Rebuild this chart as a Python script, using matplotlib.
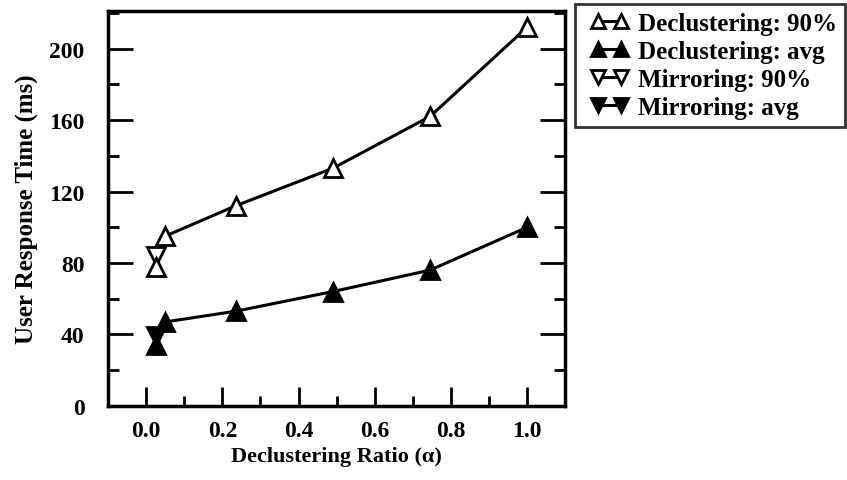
import matplotlib
matplotlib.use("Agg")
import matplotlib.pyplot as plt
from matplotlib.ticker import MultipleLocator
from matplotlib.lines import Line2D
from matplotlib.legend_handler import HandlerLine2D

plt.rcParams['font.family'] = ['Liberation Serif', 'DejaVu Serif']
plt.rcParams['font.weight'] = 'bold'
plt.rcParams['axes.labelweight'] = 'bold'

# values
decl_x = [0.05, 0.235, 0.49, 0.745, 1.0]
decl_90 = [95, 112, 133, 162, 212]
decl_avg = [47, 53, 64, 76, 100]

# isolated points near alpha = 0
mirr_x = [0.025]
mirr_90 = [84]
mirr_avg = [39]
decl0_x = [0.025]
decl0_90 = [78]
decl0_avg = [34]

fig = plt.figure(figsize=(8.47, 4.81), dpi=100)
ax = fig.add_axes([0.1275, 0.154, 0.54, 0.821])

ms = 13
mew = 2
ax.plot(decl_x, decl_90, color='black', lw=2.2, marker='^', ms=ms,
        mfc='white', mec='black', mew=mew, label='Declustering: 90%')
ax.plot(decl_x, decl_avg, color='black', lw=2.2, marker='^', ms=ms,
        mfc='black', mec='black', mew=mew, label='Declustering: avg')
ax.plot(mirr_x, mirr_90, color='black', lw=2.2, marker='v', ms=ms,
        mfc='white', mec='black', mew=mew, label='Mirroring: 90%')
ax.plot(mirr_x, mirr_avg, color='black', lw=2.2, marker='v', ms=ms,
        mfc='black', mec='black', mew=mew, label='Mirroring: avg')
ax.plot(decl0_x, decl0_90, ls='none', marker='^', ms=ms,
        mfc='white', mec='black', mew=mew)
ax.plot(decl0_x, decl0_avg, ls='none', marker='^', ms=ms,
        mfc='black', mec='black', mew=mew)

ax.set_xlim(-0.1, 1.1)
ax.set_ylim(0, 221)
ax.xaxis.set_minor_locator(MultipleLocator(0.1))
ax.yaxis.set_major_locator(MultipleLocator(40))
ax.yaxis.set_minor_locator(MultipleLocator(20))
ax.set_xticks([0.0, 0.2, 0.4, 0.6, 0.8, 1.0])
ax.set_xticklabels(['0.0', '0.2', '0.4', '0.6', '0.8', '1.0'])

ax.tick_params(axis='both', which='both', direction='in', width=2,
               labelsize=17, top=False, right=True)
ax.tick_params(axis='y', which='major', length=18, pad=17)
ax.tick_params(axis='y', which='minor', length=8)
ax.tick_params(axis='x', which='major', length=14, pad=10)
ax.tick_params(axis='x', which='minor', length=7)
for sp in ax.spines.values():
    sp.set_linewidth(2.5)

ax.set_xlabel('Declustering Ratio (α)', fontsize=16, labelpad=4)
ax.set_ylabel('User Response Time (ms)', fontsize=18, labelpad=8)

leg = fig.legend(loc='upper left', bbox_to_anchor=(0.679, 0.99),
                 handler_map={Line2D: HandlerLine2D(marker_pad=0.6, numpoints=2)},
                 handlelength=2.1, handletextpad=0.1, markerscale=0.8,
                 labelspacing=0.2, borderpad=0.32, fontsize=18,
                 frameon=True, fancybox=False, borderaxespad=0)
leg.get_frame().set_edgecolor('black')
leg.get_frame().set_linewidth(2)

fig.savefig('out.png', dpi=100)
